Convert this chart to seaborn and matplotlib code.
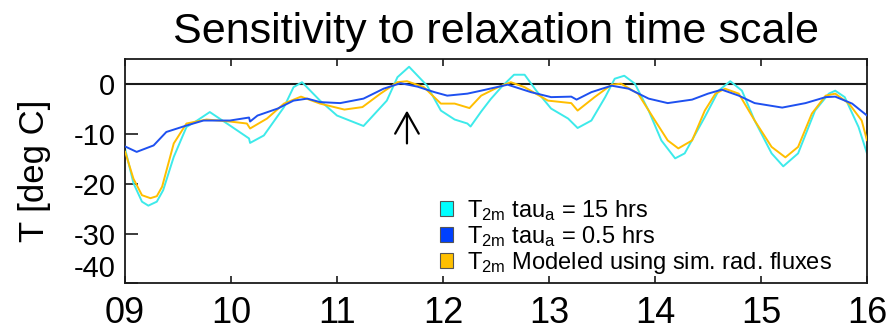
import matplotlib
matplotlib.use("Agg")
import matplotlib.pyplot as plt
from matplotlib.patches import Patch
import seaborn as sns
import pandas as pd

# ---- data ----
day_tau15 = [9.00, 9.08, 9.16, 9.22, 9.30, 9.36, 9.46, 9.58, 9.68, 9.80, 9.99, 10.17, 10.18,
             10.31, 10.50, 10.59, 10.67, 10.84, 11.00, 11.25, 11.47, 11.57, 11.68, 11.85,
             11.98, 12.11, 12.23, 12.26, 12.36, 12.45, 12.55, 12.67, 12.77, 12.88, 13.02,
             13.18, 13.27, 13.40, 13.53, 13.62, 13.71, 13.81, 13.94, 14.06, 14.19, 14.28,
             14.47, 14.60, 14.71, 14.82, 14.94, 15.10, 15.21, 15.35, 15.51, 15.64, 15.70,
             15.79, 15.92, 16.00]
T_tau15 = [-12.9, -19.9, -23.6, -24.4, -23.6, -21.3, -14.6, -8.6, -7.3, -5.6, -8.3, -10.9, -11.8,
           -10.3, -4.6, -0.6, 0.4, -3.3, -6.3, -8.4, -3.3, 1.4, 3.5, -0.3,
           -5.3, -7.1, -7.9, -8.5, -5.5, -3.0, -0.6, 1.9, 1.9, -1.3, -4.9,
           -6.9, -8.8, -7.3, -2.6, 1.1, 1.7, 0.1, -5.3, -11.3, -14.9, -13.9,
           -6.6, -1.3, 0.6, -1.3, -7.3, -13.9, -16.5, -13.9, -5.3, -1.9, -1.3,
           -2.6, -8.6, -13.9]

day_tau05 = [9.00, 9.11, 9.27, 9.39, 9.58, 9.74, 9.99, 10.17, 10.18, 10.25, 10.44, 10.59,
             10.72, 10.84, 11.03, 11.25, 11.44, 11.60, 11.76, 11.92, 12.04, 12.23, 12.36,
             12.61, 12.83, 13.02, 13.21, 13.26, 13.40, 13.59, 13.75, 13.94, 14.12, 14.35,
             14.50, 14.63, 14.79, 14.94, 15.20, 15.42, 15.61, 15.70, 15.86, 16.00]
T_tau05 = [-12.5, -13.6, -12.3, -9.6, -8.3, -7.3, -7.3, -6.7, -7.5, -6.3, -4.9, -3.3,
           -2.9, -3.6, -3.8, -2.9, -0.9, 0.2, -0.5, -1.6, -2.3, -1.9, -1.3,
           -0.1, -1.6, -2.6, -2.5, -3.1, -1.6, -0.3, -0.9, -2.9, -3.8, -3.1,
           -1.9, -1.1, -2.3, -3.8, -4.7, -3.8, -2.6, -2.5, -3.9, -6.3]

day_model = [9.00, 9.08, 9.16, 9.24, 9.30, 9.35, 9.46, 9.58, 9.77, 9.99, 10.15, 10.18, 10.34,
             10.50, 10.66, 10.84, 11.07, 11.24, 11.41, 11.57, 11.66, 11.82, 11.98, 12.11,
             12.25, 12.36, 12.52, 12.64, 12.77, 12.99, 13.21, 13.27, 13.43, 13.59, 13.68,
             13.84, 14.00, 14.12, 14.22, 14.35, 14.47, 14.57, 14.66, 14.79, 14.94, 15.10,
             15.23, 15.35, 15.48, 15.61, 15.70, 15.83, 15.95, 16.00]
T_model = [-13.5, -19.0, -22.3, -22.9, -22.5, -20.6, -11.9, -7.9, -7.1, -7.5, -7.9, -8.9, -6.9,
           -3.9, -2.5, -3.9, -5.1, -4.6, -1.9, 0.4, 0.6, -0.6, -3.9, -3.9,
           -4.8, -2.3, -0.6, 0.4, -0.6, -3.3, -3.8, -5.3, -2.6, -0.1, 0.1,
           -1.9, -7.3, -11.3, -12.9, -11.3, -5.3, -1.9, -0.9, -1.9, -7.3, -12.6,
           -14.7, -12.6, -5.9, -2.3, -1.9, -3.9, -7.3, -11.3]

series_labels = [r"T$_{\rm 2m}$ tau$_{\rm a}$ = 15 hrs",
                 r"T$_{\rm 2m}$ tau$_{\rm a}$ = 0.5 hrs",
                 r"T$_{\rm 2m}$ Modeled using sim. rad. fluxes"]
xticks = [9, 10, 11, 12, 13, 14, 15, 16]
xticklabels = ["09", "10", "11", "12", "13", "14", "15", "16"]
yticks = [0, -10, -20, -30, -40]

# ---- style ----
sns.set_style("white")
plt.rcParams["font.family"] = ["Liberation Sans", "DejaVu Sans"]
plt.rcParams["mathtext.fontset"] = "custom"
plt.rcParams["mathtext.rm"] = "Liberation Sans"
plt.rcParams["mathtext.it"] = "Liberation Sans:italic"
plt.rcParams["text.color"] = "black"
plt.rcParams["axes.labelcolor"] = "black"
plt.rcParams["xtick.labelcolor"] = "black"
plt.rcParams["ytick.labelcolor"] = "black"

line_colors = ["#3DEAEA", "#1E50F0", "#FFBE00"]
patch_colors = ["#00FFFF", "#0040FF", "#FFC000"]

fig = plt.figure(figsize=(8.89, 3.35), dpi=100)
ax = fig.add_axes([125 / 889, 1 - 283.3 / 335, (867 - 125) / 889, (283.3 - 59.3) / 335])

df15 = pd.DataFrame({"day": day_tau15, "T": T_tau15})
df05 = pd.DataFrame({"day": day_tau05, "T": T_tau05})
dfm = pd.DataFrame({"day": day_model, "T": T_model})

ax.axhline(0, color="#1a1a1a", lw=1.5, zorder=1)
sns.lineplot(data=df15, x="day", y="T", ax=ax, color=line_colors[0], lw=1.4, zorder=2)
sns.lineplot(data=dfm, x="day", y="T", ax=ax, color=line_colors[2], lw=1.4, zorder=3)
sns.lineplot(data=df05, x="day", y="T", ax=ax, color=line_colors[1], lw=1.4, zorder=4)

ax.set_xlim(9, 16)
ax.set_ylim(-40, 5)
ax.set_xticks(xticks)
ax.set_xticklabels(xticklabels, fontsize=26, color="black")
ax.set_yticks(yticks)
ax.set_yticklabels([str(v) for v in yticks], fontsize=21, color="black")
ax.tick_params(axis="x", direction="in", length=5, width=1.2, top=True, bottom=True,
               pad=9, color="#1a1a1a")
ax.tick_params(axis="y", direction="in", length=9, width=1.2, left=True, right=False,
               pad=7, color="#1a1a1a")
# lowest y label sits above the frame's bottom, as in the reference
ax.get_yticklabels()[-1].set_va("bottom")
for s in ax.spines.values():
    s.set_visible(True)
    s.set_color("#1a1a1a")
    s.set_linewidth(1.3)

ax.set_xlabel("")
ax.set_ylabel("T [deg C]", fontsize=25, labelpad=16, color="black")
ax.set_title("Sensitivity to relaxation time scale", fontsize=31, pad=12, color="black")

ax.annotate("", xy=(11.66, -5.3), xytext=(11.66, -11.9),
            arrowprops=dict(arrowstyle="->,head_length=1.5,head_width=0.85",
                            mutation_scale=10, color="black", lw=1.6, shrinkA=0, shrinkB=0))

handles = [Patch(facecolor=c, edgecolor="#555555", linewidth=0.8) for c in patch_colors]
leg = ax.legend(handles, series_labels, loc="upper left", bbox_to_anchor=(440 / 889, 1 - 198 / 335),
                bbox_transform=fig.transFigure, frameon=False, fontsize=17,
                handlelength=0.55, handleheight=0.6, handletextpad=0.6,
                labelspacing=0.05, borderpad=0, borderaxespad=0)
for t in leg.get_texts():
    t.set_color("black")

fig.savefig("out.png", dpi=100)
